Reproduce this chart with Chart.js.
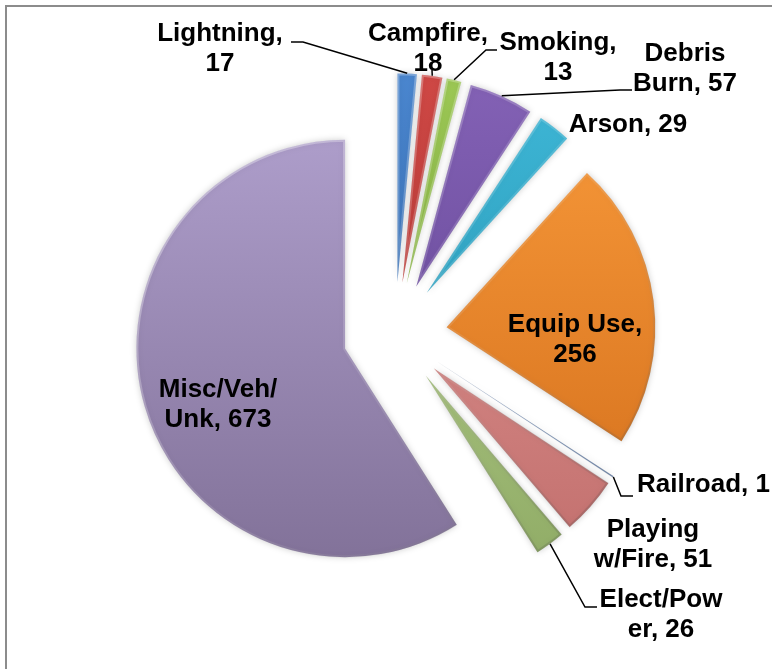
<!DOCTYPE html>
<html>
<head>
<meta charset="utf-8">
<title>Fire causes</title>
<script src="https://cdn.jsdelivr.net/npm/chart.js@4.4.0/dist/chart.umd.min.js"></script>
<style>
  html, body { margin: 0; padding: 0; background: #fff; overflow: hidden; }
  #pie { position: absolute; left: 0; top: 0; }
</style>
</head>
<body>
<canvas id="pie" width="772" height="669"></canvas>
<script>
"use strict";

// fires by cause, clockwise from 12 o'clock
const causes = ['Lightning', 'Campfire', 'Smoking', 'Debris Burn', 'Arson', 'Equip Use',
                'Railroad', 'Playing w/Fire', 'Elect/Power', 'Misc/Veh/Unk'];
const fireCounts = [17, 18, 13, 57, 29, 256, 1, 51, 26, 673];

// colours (top / bottom of the shading)
const sliceTop = ['#4a86cf', '#cf4845', '#9dc955', '#8462b6', '#3fb8d8', '#fa9c3c',
                  '#a3b8da', '#e49c9a', '#c0d898', '#b4a4d2'];
const sliceBottom = ['#2a5c9c', '#a22d2a', '#709934', '#593d8a', '#1f8aa7', '#d26d1a',
                     '#6f8cb8', '#c26f6d', '#90ac66', '#817198'];

const EXPLODE = 52;     // px each slice is pulled out
const PIE_RADIUS = 209;

// where the data labels sit; wrap = chars on first line
const labelLayout = [
  { wrap: 10, x: 220, y: 41, leader: [[303, 42], [291, 42]] },
  { wrap: 9,  x: 428, y: 41, leader: [[432, 70]] },
  { wrap: 8,  x: 558, y: 50, leader: [[486, 50], [497, 50]] },
  { wrap: 6,  x: 685, y: 61, leader: [[620, 90], [632, 90]] },
  { wrap: 0,  x: 628, y: 132 },
  { wrap: 10, x: 575, y: 332 },
  { wrap: 0,  x: 637, y: 492, align: 'left', leader: [[621, 496], [633, 496]] },
  { wrap: 7,  x: 653, y: 537 },
  { wrap: 9,  x: 661, y: 607, leader: [[585, 607], [597, 607]] },
  { wrap: 9,  x: 218, y: 397 }
];

function shade(context) {
  const i = context.dataIndex;
  if (!context.chart.chartArea) return sliceTop[i];
  const g = context.chart.ctx.createLinearGradient(0, 70, 0, 570);
  g.addColorStop(0, sliceTop[i]);
  g.addColorStop(1, sliceBottom[i]);
  return g;
}

// rim of the bevel: light up-left, dark down-right
function rim(context) {
  if (!context.chart.chartArea) return 'rgba(255,255,255,0.3)';
  const g = context.chart.ctx.createLinearGradient(150, 80, 650, 580);
  g.addColorStop(0, 'rgba(255,255,255,0.45)');
  g.addColorStop(0.5, 'rgba(255,255,255,0.12)');
  g.addColorStop(1, 'rgba(0,0,0,0.22)');
  return g;
}

/* pull every slice out along its middle angle */
const explode = {
  id: 'explode',
  afterDatasetUpdate(chart, args) {
    args.meta.data.forEach(arc => {
      const mid = (arc.startAngle + arc.endAngle) / 2;
      arc.x += Math.cos(mid) * EXPLODE;
      arc.y += Math.sin(mid) * EXPLODE;
    });
  }
};

/* chart frame, only top and left show in the window */
const frame = {
  id: 'frame',
  beforeDraw(chart) {
    const ctx = chart.ctx;
    ctx.save();
    ctx.strokeStyle = '#8c8c8c';
    ctx.lineWidth = 2;
    ctx.beginPath();
    ctx.moveTo(6, chart.height);
    ctx.lineTo(6, 6);
    ctx.lineTo(chart.width, 6);
    ctx.stroke();
    ctx.restore();
  }
};

/* soft glow round the slices */
const glow = {
  id: 'glow',
  beforeDatasetDraw(chart) {
    const ctx = chart.ctx;
    ctx.save();
    ctx.shadowColor = 'rgba(0,0,0,0.2)';
    ctx.shadowBlur = 6;
  },
  afterDatasetDraw(chart) {
    chart.ctx.restore();
  }
};

const sliceLabels = {
  id: 'sliceLabels',
  afterDraw(chart) {
    const ctx = chart.ctx;
    const arcs = chart.getDatasetMeta(0).data;
    ctx.save();
    ctx.strokeStyle = '#000';
    ctx.lineWidth = 1.5;
    ctx.fillStyle = '#000';
    ctx.font = 'bold 26px "Liberation Sans", Arial, sans-serif';
    ctx.textBaseline = 'alphabetic';
    arcs.forEach((arc, i) => {
      const lay = labelLayout[i];
      if (lay.leader) {
        const mid = (arc.startAngle + arc.endAngle) / 2;
        ctx.beginPath();
        ctx.moveTo(arc.x + Math.cos(mid) * arc.outerRadius, arc.y + Math.sin(mid) * arc.outerRadius);
        lay.leader.forEach(p => ctx.lineTo(p[0], p[1]));
        ctx.stroke();
      }
      const text = causes[i] + ', ' + fireCounts[i];
      const lines = lay.wrap ? [text.slice(0, lay.wrap).trim(), text.slice(lay.wrap).trim()] : [text];
      ctx.textAlign = lay.align || 'center';
      lines.forEach((ln, k) => ctx.fillText(ln, lay.x, lay.y + k * 30));
    });
    ctx.restore();
  }
};

new Chart(document.getElementById('pie'), {
  type: 'pie',
  data: {
    labels: causes,
    datasets: [{
      data: fireCounts,
      backgroundColor: shade,
      borderColor: rim,
      borderWidth: 2,
      borderAlign: 'inner',
      radius: PIE_RADIUS,
      rotation: 0
    }]
  },
  options: {
    responsive: false,
    animation: false,
    layout: { padding: { left: 18, right: 0, top: 0, bottom: 1 } },
    plugins: {
      legend: { display: false },
      tooltip: { enabled: false }
    }
  },
  plugins: [frame, explode, glow, sliceLabels]
});
</script>
</body>
</html>
